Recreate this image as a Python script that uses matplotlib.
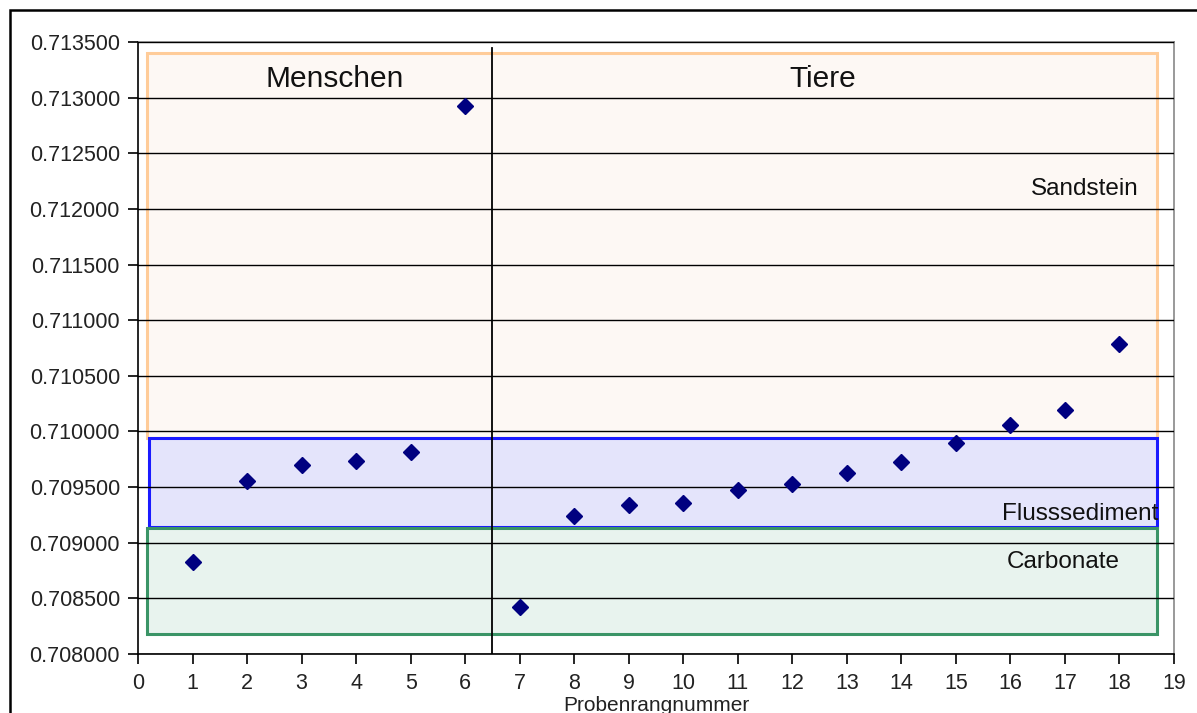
import matplotlib
matplotlib.use("Agg")
import matplotlib.pyplot as plt
from matplotlib.patches import Rectangle

plt.rcParams['font.family'] = ['Liberation Sans', 'DejaVu Sans']

# Data
sample_rank = list(range(1, 19))
sr_ratio = [0.708827, 0.709554, 0.709698, 0.709734, 0.709815, 0.712924,
            0.708422, 0.709240, 0.709339, 0.709357, 0.709474, 0.709528,
            0.709626, 0.709725, 0.709896, 0.710058, 0.710192, 0.710785]

# Ranges (x0, x1, y0, y1)
zone_names = ["Sandstein", "Flusssediment", "Carbonate"]
zone_x0 = [0.165, 0.2, 0.165]
zone_x1 = [18.68, 18.68, 18.68]
zone_y0 = [0.70994, 0.70914, 0.70818]
zone_y1 = [0.71340, 0.70994, 0.70913]
zone_edge = ["#FFCC99", "#1A1AFF", "#3A9466"]
zone_fill = ["#FDF8F4", "#E4E4FB", "#E8F3EE"]

divider_x = 6.5
group_labels = ["Menschen", "Tiere"]
group_x = [3.6, 12.55]

yticks = [0.708, 0.7085, 0.709, 0.7095, 0.710, 0.7105, 0.711, 0.7115,
          0.712, 0.7125, 0.713, 0.7135]

fig = plt.figure(figsize=(11.97, 7.13), dpi=100)
# outer frame
fig.patches.append(Rectangle((10/1197, -0.05), 1.1, 1 - 10/713 + 0.05,
                             transform=fig.transFigure, fill=False,
                             edgecolor="black", linewidth=1.8, zorder=0))

ax = fig.add_axes([138/1197, 1 - 654/713, (1174 - 138)/1197, (654 - 42)/713])
ax.set_xlim(0, 19)
ax.set_ylim(0.708, 0.7135)

for i in range(3):
    ax.add_patch(Rectangle((zone_x0[i], zone_y0[i]), zone_x1[i] - zone_x0[i],
                           zone_y1[i] - zone_y0[i], facecolor=zone_fill[i],
                           edgecolor=zone_edge[i], linewidth=2.2, zorder=1))

ax.set_yticks(yticks)
ax.set_yticklabels([f"{v:.6f}" for v in yticks])
ax.set_xticks(range(0, 20))
ax.yaxis.grid(True, color="black", linewidth=1.0, zorder=2)
ax.set_axisbelow(False)
for gl in ax.get_ygridlines():
    gl.set_zorder(2)

ax.plot([divider_x, divider_x], [0.708, 0.71345], color="black", linewidth=1.3, zorder=3)

ax.plot(sample_rank, sr_ratio, linestyle="none", marker="D", markersize=8.5,
        color="#000080", zorder=5)

ax.text(group_x[0], 0.71317, group_labels[0], fontsize=21.5, ha="center", va="center", color="#111111", zorder=6)
ax.text(group_x[1], 0.71317, group_labels[1], fontsize=21.5, ha="center", va="center", color="#111111", zorder=6)
ax.text(18.35, 0.71218, zone_names[0], fontsize=17.5, ha="right", va="center", color="#111111", zorder=6)
ax.text(18.72, 0.70926, zone_names[1], fontsize=17.5, ha="right", va="center", color="#111111", zorder=6)
ax.text(18.0, 0.70883, zone_names[2], fontsize=17.5, ha="right", va="center", color="#111111", zorder=6)

ax.spines["left"].set_color("black")
ax.spines["bottom"].set_color("black")
ax.spines["top"].set_color("#777777")
ax.spines["right"].set_color("#888888")
for s in ax.spines.values():
    s.set_linewidth(1.2)
ax.tick_params(axis="both", direction="out", length=7, width=1.2, labelsize=15.5,
               colors="black", labelcolor="#222222")
ax.tick_params(axis="x", pad=7)
ax.tick_params(axis="y", pad=6)
ax.set_xlabel("Probenrangnummer", fontsize=15, color="#222222", labelpad=1)

fig.savefig("out.png", dpi=100)
